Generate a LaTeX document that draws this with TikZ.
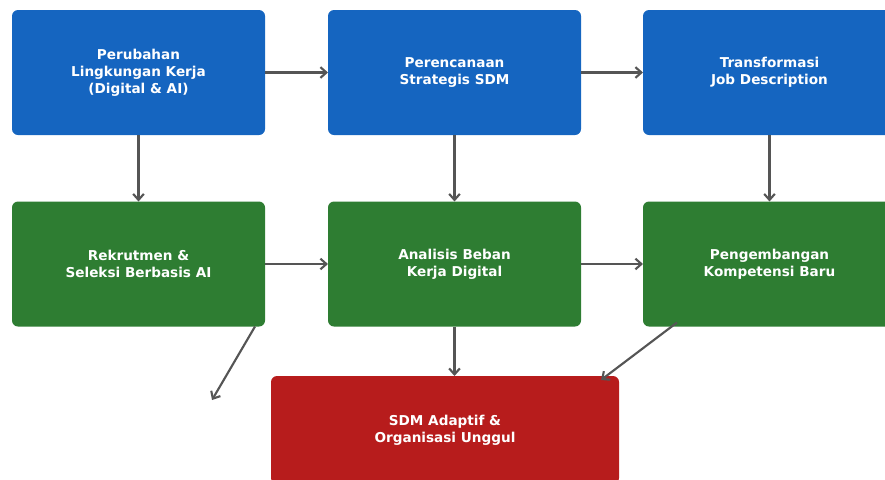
\documentclass[tikz,border=0pt]{standalone}
\usepackage{fontspec}
\setmainfont{DejaVu Sans}
\usetikzlibrary{arrows.meta}
\definecolor{boxblue}{HTML}{1565C0}
\definecolor{boxgreen}{HTML}{2E7D32}
\definecolor{boxred}{HTML}{B71C1C}
\definecolor{linkgray}{HTML}{555555}

\begin{document}
\begin{tikzpicture}[x=0.75pt,y=-0.75pt,
    box/.style={rounded corners=4.5pt, inner sep=0pt, outer sep=0pt,
      minimum width=189.75pt, minimum height=93.75pt, align=center,
      text=white, font=\bfseries\fontsize{10.2}{12.75}\selectfont},
    link/.style={linkgray, line width=1.6pt, -{Straight Barb[length=4.5pt,width=8pt,line width=1.6pt]}}]
    \clip (0,0) rectangle (885,479);
    \useasboundingbox (0,0) rectangle (885,479);

    % top row
    \node[box, fill=boxblue] (lingkungan) at (138.5,72.5) {Perubahan\\Lingkungan Kerja\\(Digital \& AI)};
    \node[box, fill=boxblue] (strategi) at (454.5,72.5) {Perencanaan\\Strategis SDM};
    \node[box, fill=boxblue] (jobdesc) at (769.5,72.5) {Transformasi\\Job Description};

    % middle row
    \node[box, fill=boxgreen] (rekrutmen) at (138.5,264) {Rekrutmen \&\\Seleksi Berbasis AI};
    \node[box, fill=boxgreen] (beban) at (454.5,264) {Analisis Beban\\Kerja Digital};
    \node[box, fill=boxgreen] (kompetensi) at (769.5,264) {Pengembangan\\Kompetensi Baru};

    % result
    \node[box, fill=boxred, minimum width=261pt, minimum height=81pt] (unggul) at (445,430) {SDM Adaptif \&\\Organisasi Unggul};
    \coordinate (lepas) at (212,400);

    \draw[link] (lingkungan) -- (strategi);
    \draw[link] (strategi) -- (jobdesc);
    \draw[link] (rekrutmen) -- (beban);
    \draw[link] (beban) -- (kompetensi);

    \draw[link] (lingkungan) -- (rekrutmen);
    \draw[link] (strategi) -- (beban);
    \draw[link] (jobdesc) -- (kompetensi);
    \draw[link] (beban) -- (beban |- unggul.north);

    \draw[link] ([xshift=-7.5pt]rekrutmen.south east) -- (lepas);
    \draw[link] ([xshift=25.5pt,yshift=3pt]kompetensi.south west) -- ([xshift=-13.5pt,yshift=-3pt]unggul.north east);
\end{tikzpicture}
\end{document}
